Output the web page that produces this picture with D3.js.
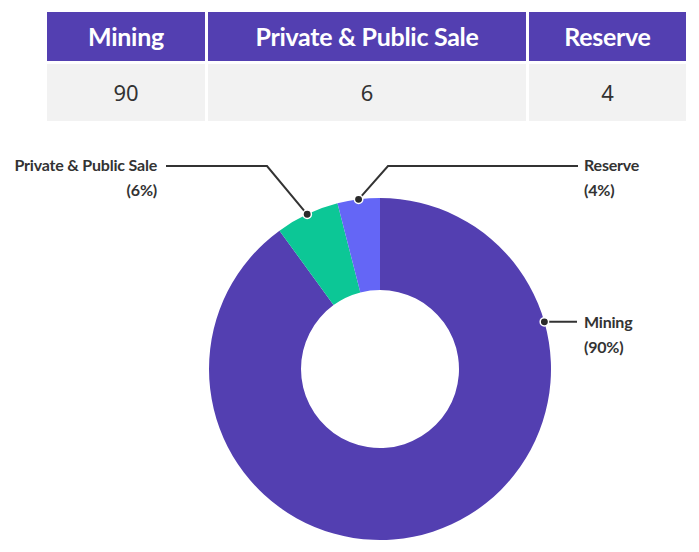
<!DOCTYPE html>
<html><head><meta charset="utf-8">
<script src="https://cdn.jsdelivr.net/npm/d3@7"></script>
<style>
html,body{margin:0;padding:0;background:#fff;}
svg{display:block;}
</style></head>
<body>
<svg id="c" width="699" height="552"></svg>
<script>
const categories = ["Mining", "Private & Public Sale", "Reserve"];
const values = [90, 6, 4];
const percentLabels = ["(90%)", "(6%)", "(4%)"];
const colors = ["#533fb1", "#0cc796", "#6466f6"];

const svg = d3.select("#c");

// ---- table ----
const tableX = d3.scaleOrdinal().domain(categories).range([47, 208, 529]);
const colW = {"Mining":158, "Private & Public Sale":318, "Reserve":157};
const headY = 12, headH = 49, rowY = 64, rowH = 57;
const titleFont = "Lato, 'Noto Sans', sans-serif";

const cols = svg.append("g").selectAll("g").data(categories).join("g");
cols.append("rect").attr("x", d => tableX(d)).attr("y", headY)
  .attr("width", d => colW[d]).attr("height", headH).attr("fill", "#533fb1");
cols.append("rect").attr("x", d => tableX(d)).attr("y", rowY)
  .attr("width", d => colW[d]).attr("height", rowH).attr("fill", "#f2f2f2");
cols.append("text").attr("x", d => tableX(d) + colW[d]/2).attr("y", headY + headH/2 + 9)
  .attr("text-anchor", "middle").attr("fill", "#fff")
  .style("font-family", titleFont).style("font-weight", 700).style("font-size", "25px")
  .style("letter-spacing", "-0.3px")
  .text(d => d);
cols.append("text").attr("x", d => tableX(d) + colW[d]/2).attr("y", rowY + rowH/2 + 8)
  .attr("text-anchor", "middle").attr("fill", "#333")
  .style("font-family", "'Noto Sans', sans-serif").style("font-size", "22px")
  .text((d, i) => values[i]);

// ---- donut ----
const cx = 380, cy = 369, rOuter = 171, rInner = 79;
const pie = d3.pie().sort(null).value(d => d)(values);
const arc = d3.arc().innerRadius(rInner).outerRadius(rOuter);
const g = svg.append("g").attr("transform", `translate(${cx},${cy})`);
g.selectAll("path").data(pie).join("path")
  .attr("d", arc).attr("fill", (d, i) => colors[i]);

// label layout (anchor angle in radians from top, elbow, text side)
const labelLayout = [
  {angle: 74 * Math.PI/180, elbow: null, endX: 577, textX: 584, anchor: "start", ty: 323},
  {angle: null, elbow: [267, 166], endX: 166, textX: 157, anchor: "end", ty: 166},
  {angle: null, elbow: [388, 166], endX: 578, textX: 584, anchor: "start", ty: 166}
];

const lab = svg.append("g");
pie.forEach((p, i) => {
  const L = labelLayout[i];
  const a = L.angle !== null ? L.angle : (p.startAngle + p.endAngle) / 2;
  const px = cx + Math.sin(a) * rOuter;
  const py = cy - Math.cos(a) * rOuter;
  let pts;
  if (L.elbow) pts = [[px, py], L.elbow, [L.endX, L.elbow[1]]];
  else pts = [[px, py], [L.endX, py]];
  lab.append("path").attr("d", d3.line()(pts)).attr("fill", "none")
    .attr("stroke", "#333").attr("stroke-width", 2);
  lab.append("circle").attr("cx", px).attr("cy", py).attr("r", 4.2)
    .attr("fill", "#2b2b2b").attr("stroke", "#fff").attr("stroke-width", 1.5);
  const t = lab.append("text").attr("text-anchor", L.anchor).attr("fill", "#333")
    .style("font-family", titleFont).style("font-weight", 700).style("font-size", "16px")
    .style("letter-spacing", "-0.2px");
  t.append("tspan").attr("x", L.textX).attr("y", L.ty + 5).text(categories[i]);
  t.append("tspan").attr("x", L.textX).attr("y", L.ty + 30).text(percentLabels[i]);
});
</script>
</body></html>
